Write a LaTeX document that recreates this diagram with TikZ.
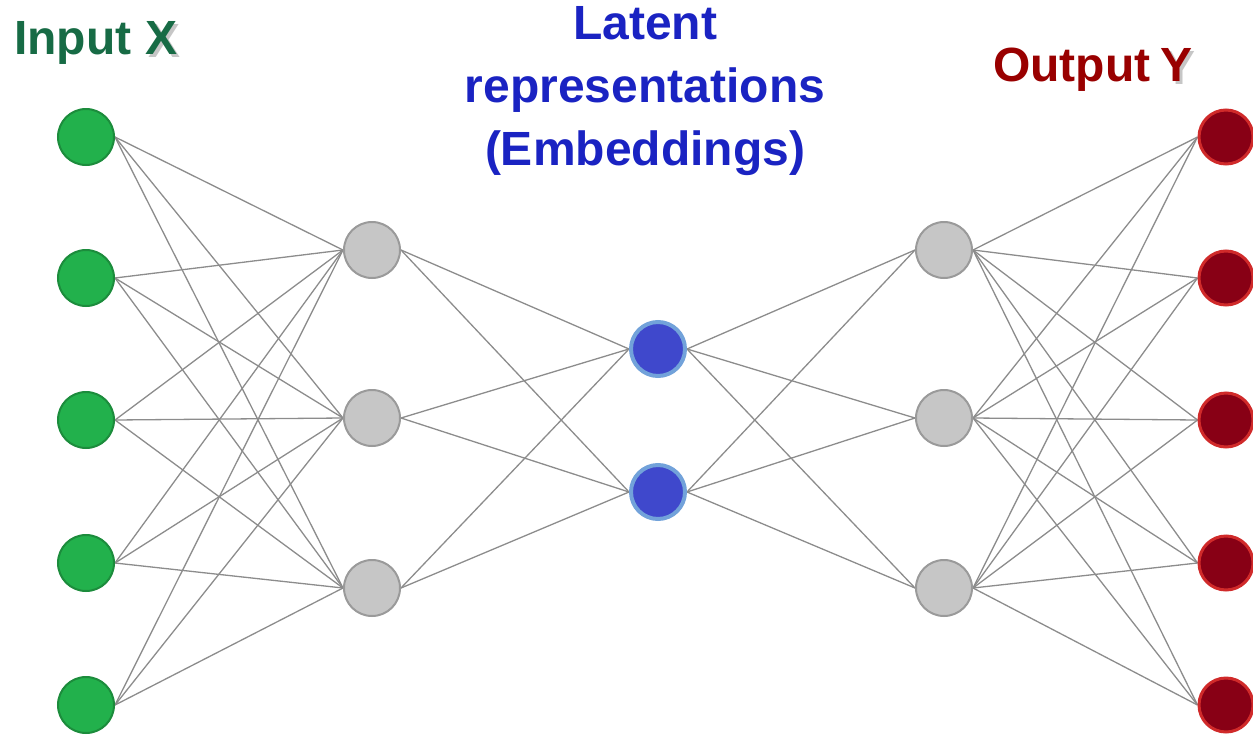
\documentclass[tikz,border=0pt]{standalone}
\usepackage{fontspec}
\setmainfont{Liberation Sans}
\usepackage{xcolor}
\usetikzlibrary{backgrounds}
\definecolor{incolor}{HTML}{22B14C}
\definecolor{inedge}{HTML}{1C8C3C}
\definecolor{intext}{HTML}{176B45}
\definecolor{hidcolor}{HTML}{C6C6C6}
\definecolor{hidedge}{HTML}{9A9A9A}
\definecolor{latcolor}{HTML}{3F48CC}
\definecolor{latedge}{HTML}{72A2DA}
\definecolor{lattext}{HTML}{1A23C2}
\definecolor{outcolor}{HTML}{880015}
\definecolor{outedge}{HTML}{D02A2A}
\definecolor{outtext}{HTML}{990000}

\begin{document}
\begin{tikzpicture}[x = 1pt, y = -1pt,
        neuron/.style = {circle, minimum size = 56pt, inner sep = 0pt, line width = 2pt},
        innode/.style = {neuron, fill = incolor, draw = inedge},
        hidnode/.style = {neuron, fill = hidcolor, draw = hidedge},
        latnode/.style = {neuron, minimum size = 54pt, fill = latcolor, draw = latedge, line width = 4pt},
        outnode/.style = {neuron, minimum size = 54pt, fill = outcolor, draw = outedge, line width = 3pt},
        weight/.style = {draw = gray!90, line width = 1.3pt},
        title/.style = {font = \fontsize{48}{63}\selectfont\bfseries, inner sep = 0pt}]

        \useasboundingbox (0, 0) rectangle (1253, 736);

        % Layers
        \foreach \i/\y in {1/137, 2/278, 3/420, 4/563, 5/705}
        {
            \node [innode] (in\i) at (86, \y) {};
            \node [outnode] (out\i) at (1226, \y) {};
        }
        \foreach \i/\y in {1/250, 2/418, 3/588}
        {
            \node [hidnode] (ha\i) at (372, \y) {};
            \node [hidnode] (hb\i) at (944, \y) {};
        }
        \node [latnode] (lat1) at (658, 349) {};
        \node [latnode] (lat2) at (658, 492) {};

        % Weights
        \begin{scope}[on background layer]
        \foreach \i in {1, ..., 5}
            \foreach \j in {1, 2, 3}
            {
                \draw [weight] (in\i.east) -- (ha\j.west);
                \draw [weight] (hb\j.east) -- (out\i.west);
            }
        \foreach \j in {1, 2, 3}
            \foreach \k in {1, 2}
            {
                \draw [weight] (ha\j.east) -- (lat\k.west);
                \draw [weight] (lat\k.east) -- (hb\j.west);
            }
        \end{scope}

        % Titles
        \node [title, text = intext, anchor = base west] (intitle) at (14, 54) {Input};
        \node [title, text = gray!45, anchor = base west] (inshadow) at (148, 57) {X};
        \node [title, text = intext, anchor = base west] (inx) at (145, 54) {X};

        \node [title, text = outtext, anchor = base west] (outtitle) at (993, 81) {Output};
        \node [title, text = gray!45, anchor = base west] (outshadow) at (1163, 84) {Y};
        \node [title, text = outtext, anchor = base west] (outy) at (1160, 81) {Y};

        \node [title, text = lattext, align = center, anchor = north] (lattitle) at (645, 6)
            {Latent\\representations\\(Embeddings)};

\end{tikzpicture}
\end{document}
